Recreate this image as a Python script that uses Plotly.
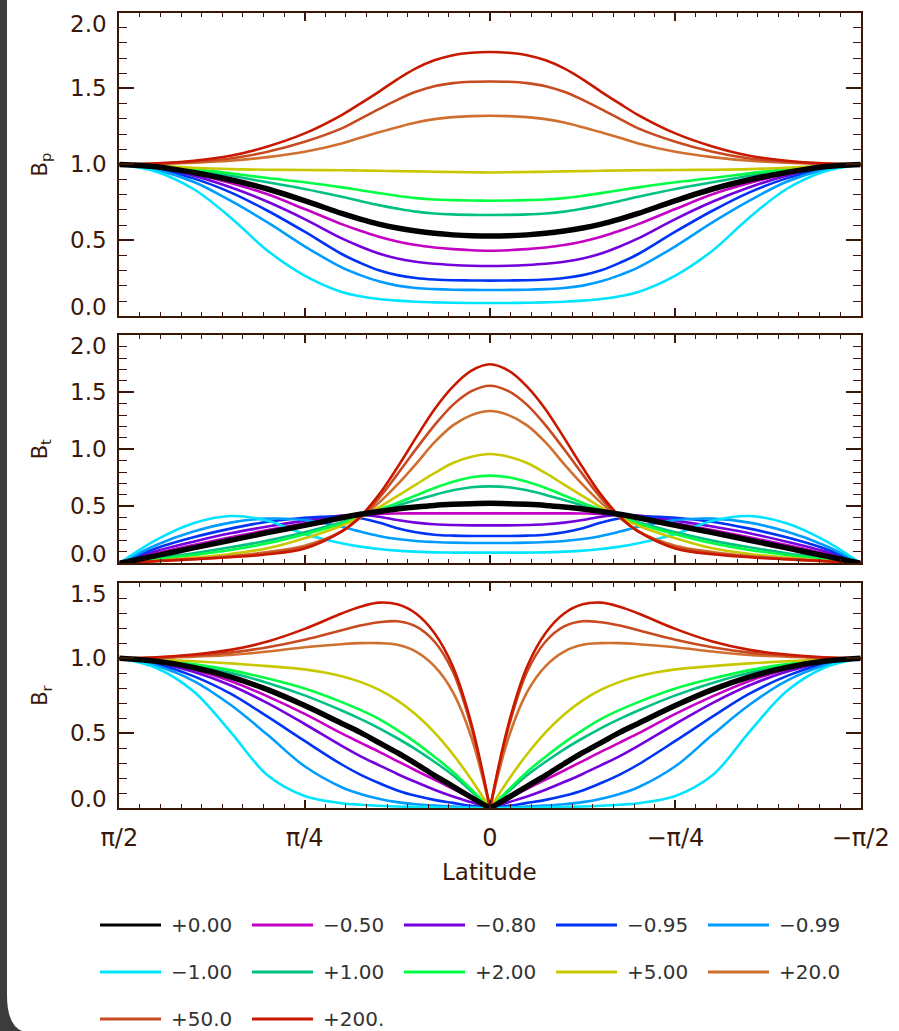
import plotly.graph_objects as go

W, H = 899, 1031

# ---------------- data ----------------
LAT = [90, 81, 72, 63, 54, 45, 36, 31.5, 27, 22.5, 18, 13.5, 9, 4.5, 0,
       -4.5, -9, -13.5, -18, -22.5, -27, -31.5, -36, -45, -54, -63, -72, -81, -90]

SERIES = ["+0.00", "−0.50", "−0.80", "−0.95", "−0.99", "−1.00",
          "+1.00", "+2.00", "+5.00", "+20.0", "+50.0", "+200."]
COLORS = ["#000000", "#c400c4", "#7400dc", "#0034f4", "#009cff", "#00e4ff",
          "#00c084", "#00ff44", "#c8c800", "#d07030", "#c84a20", "#c81800"]

# B_p
BP_P0 = [1.00, 0.985, 0.947, 0.899, 0.838, 0.761, 0.677, 0.640, 0.607, 0.581, 0.561, 0.546, 0.536, 0.530, 0.528, 0.530, 0.536, 0.546, 0.561, 0.581, 0.607, 0.640, 0.677, 0.761, 0.838, 0.899, 0.947, 0.985, 1.00]
BP_M05 = [1.00, 0.980, 0.939, 0.877, 0.803, 0.706, 0.607, 0.563, 0.524, 0.493, 0.469, 0.453, 0.442, 0.435, 0.432, 0.435, 0.442, 0.453, 0.469, 0.493, 0.524, 0.563, 0.607, 0.706, 0.803, 0.877, 0.939, 0.980, 1.00]
BP_M08 = [1.00, 0.976, 0.925, 0.849, 0.754, 0.640, 0.513, 0.460, 0.414, 0.381, 0.359, 0.346, 0.338, 0.333, 0.331, 0.333, 0.338, 0.346, 0.359, 0.381, 0.414, 0.460, 0.513, 0.640, 0.754, 0.849, 0.925, 0.976, 1.00]
BP_M095 = [1.00, 0.969, 0.908, 0.816, 0.695, 0.557, 0.410, 0.352, 0.303, 0.271, 0.252, 0.242, 0.237, 0.236, 0.235, 0.236, 0.237, 0.242, 0.252, 0.271, 0.303, 0.352, 0.410, 0.557, 0.695, 0.816, 0.908, 0.969, 1.00]
BP_M099 = [1.00, 0.963, 0.886, 0.761, 0.618, 0.461, 0.322, 0.271, 0.230, 0.202, 0.186, 0.179, 0.175, 0.174, 0.173, 0.174, 0.175, 0.179, 0.186, 0.202, 0.230, 0.271, 0.322, 0.461, 0.618, 0.761, 0.886, 0.963, 1.00]
BP_M1 = [1.00, 0.952, 0.838, 0.651, 0.432, 0.268, 0.160, 0.132, 0.114, 0.103, 0.096, 0.092, 0.089, 0.088, 0.088, 0.088, 0.089, 0.092, 0.096, 0.103, 0.114, 0.132, 0.160, 0.268, 0.432, 0.651, 0.838, 0.952, 1.00]
BP_P1 = [1.00, 0.987, 0.961, 0.925, 0.882, 0.838, 0.787, 0.759, 0.732, 0.709, 0.689, 0.677, 0.671, 0.668, 0.667, 0.668, 0.671, 0.677, 0.689, 0.709, 0.732, 0.759, 0.787, 0.838, 0.882, 0.925, 0.961, 0.987, 1.00]
BP_P2 = [1.00, 0.991, 0.969, 0.941, 0.910, 0.882, 0.849, 0.830, 0.811, 0.793, 0.778, 0.769, 0.765, 0.762, 0.761, 0.762, 0.765, 0.769, 0.778, 0.793, 0.811, 0.830, 0.849, 0.882, 0.910, 0.941, 0.969, 0.991, 1.00]
BP_P5 = [1.00, 0.991, 0.978, 0.969, 0.965, 0.963, 0.961, 0.960, 0.958, 0.956, 0.954, 0.952, 0.950, 0.948, 0.947, 0.948, 0.950, 0.952, 0.954, 0.956, 0.958, 0.960, 0.961, 0.963, 0.965, 0.969, 0.978, 0.991, 1.00]
BP_P20 = [1.00, 1.002, 1.011, 1.024, 1.048, 1.083, 1.138, 1.175, 1.211, 1.245, 1.276, 1.298, 1.311, 1.318, 1.320, 1.318, 1.311, 1.298, 1.276, 1.245, 1.211, 1.175, 1.138, 1.083, 1.048, 1.024, 1.011, 1.002, 1.00]
BP_P50 = [1.00, 1.004, 1.018, 1.039, 1.083, 1.149, 1.237, 1.300, 1.364, 1.425, 1.478, 1.515, 1.535, 1.544, 1.546, 1.544, 1.535, 1.515, 1.478, 1.425, 1.364, 1.300, 1.237, 1.149, 1.083, 1.039, 1.018, 1.004, 1.00]
BP_P200 = [1.00, 1.007, 1.024, 1.057, 1.118, 1.204, 1.325, 1.400, 1.478, 1.560, 1.632, 1.685, 1.719, 1.735, 1.740, 1.735, 1.719, 1.685, 1.632, 1.560, 1.478, 1.400, 1.325, 1.204, 1.118, 1.057, 1.024, 1.007, 1.00]

# B_t
BT_P0 = [0.0, 0.067, 0.135, 0.202, 0.269, 0.333, 0.400, 0.430, 0.455, 0.477, 0.494, 0.508, 0.517, 0.523, 0.526, 0.523, 0.517, 0.508, 0.494, 0.477, 0.455, 0.430, 0.400, 0.333, 0.269, 0.202, 0.135, 0.067, 0.0]
BT_M05 = [0.0, 0.088, 0.161, 0.228, 0.292, 0.351, 0.404, 0.422, 0.433, 0.437, 0.438, 0.438, 0.438, 0.438, 0.438, 0.438, 0.438, 0.438, 0.438, 0.437, 0.433, 0.422, 0.404, 0.351, 0.292, 0.228, 0.161, 0.088, 0.0]
BT_M08 = [0.0, 0.108, 0.190, 0.263, 0.322, 0.374, 0.418, 0.424, 0.409, 0.380, 0.357, 0.342, 0.336, 0.333, 0.333, 0.333, 0.336, 0.342, 0.357, 0.380, 0.409, 0.424, 0.418, 0.374, 0.322, 0.263, 0.190, 0.108, 0.0]
BT_M095 = [0.0, 0.132, 0.228, 0.304, 0.365, 0.400, 0.409, 0.395, 0.357, 0.307, 0.272, 0.251, 0.243, 0.240, 0.240, 0.240, 0.243, 0.251, 0.272, 0.307, 0.357, 0.395, 0.409, 0.400, 0.365, 0.304, 0.228, 0.132, 0.0]
BT_M099 = [0.0, 0.161, 0.278, 0.357, 0.392, 0.380, 0.320, 0.278, 0.240, 0.213, 0.196, 0.187, 0.181, 0.178, 0.178, 0.178, 0.181, 0.187, 0.196, 0.213, 0.240, 0.278, 0.320, 0.380, 0.392, 0.357, 0.278, 0.161, 0.0]
BT_M1 = [0.0, 0.205, 0.351, 0.415, 0.374, 0.257, 0.175, 0.146, 0.126, 0.111, 0.102, 0.096, 0.094, 0.094, 0.094, 0.094, 0.094, 0.096, 0.102, 0.111, 0.126, 0.146, 0.175, 0.257, 0.374, 0.415, 0.351, 0.205, 0.0]
BT_P1 = [0.0, 0.044, 0.088, 0.140, 0.199, 0.272, 0.360, 0.410, 0.455, 0.505, 0.555, 0.600, 0.640, 0.667, 0.675, 0.667, 0.640, 0.600, 0.555, 0.505, 0.455, 0.410, 0.360, 0.272, 0.199, 0.140, 0.088, 0.044, 0.0]
BT_P2 = [0.0, 0.035, 0.073, 0.117, 0.175, 0.255, 0.350, 0.410, 0.470, 0.530, 0.595, 0.660, 0.715, 0.755, 0.769, 0.755, 0.715, 0.660, 0.595, 0.530, 0.470, 0.410, 0.350, 0.255, 0.175, 0.117, 0.073, 0.035, 0.0]
BT_P5 = [0.0, 0.023, 0.050, 0.082, 0.132, 0.220, 0.330, 0.405, 0.490, 0.590, 0.690, 0.790, 0.880, 0.935, 0.959, 0.935, 0.880, 0.790, 0.690, 0.590, 0.490, 0.405, 0.330, 0.220, 0.132, 0.082, 0.050, 0.023, 0.0]
BT_P20 = [0.0, 0.020, 0.041, 0.064, 0.099, 0.155, 0.280, 0.400, 0.530, 0.690, 0.870, 1.060, 1.210, 1.300, 1.336, 1.300, 1.210, 1.060, 0.870, 0.690, 0.530, 0.400, 0.280, 0.155, 0.099, 0.064, 0.041, 0.020, 0.0]
BT_P50 = [0.0, 0.018, 0.035, 0.058, 0.088, 0.140, 0.280, 0.405, 0.570, 0.780, 1.000, 1.210, 1.390, 1.510, 1.558, 1.510, 1.390, 1.210, 1.000, 0.780, 0.570, 0.405, 0.280, 0.140, 0.088, 0.058, 0.035, 0.018, 0.0]
BT_P200 = [0.0, 0.020, 0.035, 0.053, 0.079, 0.130, 0.280, 0.410, 0.600, 0.840, 1.100, 1.350, 1.550, 1.690, 1.746, 1.690, 1.550, 1.350, 1.100, 0.840, 0.600, 0.410, 0.280, 0.130, 0.079, 0.053, 0.035, 0.020, 0.0]

# B_r
BR_P0 = [1.0, 0.980, 0.939, 0.876, 0.791, 0.685, 0.566, 0.506, 0.438, 0.371, 0.297, 0.220, 0.146, 0.072, 0.0, 0.072, 0.146, 0.220, 0.297, 0.371, 0.438, 0.506, 0.566, 0.685, 0.791, 0.876, 0.939, 0.980, 1.0]
BR_M05 = [1.0, 0.975, 0.926, 0.849, 0.746, 0.629, 0.499, 0.438, 0.378, 0.315, 0.252, 0.191, 0.130, 0.067, 0.0, 0.067, 0.130, 0.191, 0.252, 0.315, 0.378, 0.438, 0.499, 0.629, 0.746, 0.849, 0.926, 0.975, 1.0]
BR_M08 = [1.0, 0.971, 0.910, 0.820, 0.701, 0.562, 0.416, 0.348, 0.288, 0.229, 0.175, 0.124, 0.079, 0.040, 0.0, 0.040, 0.079, 0.124, 0.175, 0.229, 0.288, 0.348, 0.416, 0.562, 0.701, 0.820, 0.910, 0.971, 1.0]
BR_M095 = [1.0, 0.962, 0.881, 0.764, 0.611, 0.449, 0.292, 0.225, 0.169, 0.119, 0.083, 0.056, 0.036, 0.016, 0.0, 0.016, 0.036, 0.056, 0.083, 0.119, 0.169, 0.225, 0.292, 0.449, 0.611, 0.764, 0.881, 0.962, 1.0]
BR_M099 = [1.0, 0.950, 0.850, 0.690, 0.490, 0.280, 0.140, 0.096, 0.064, 0.041, 0.027, 0.018, 0.011, 0.006, 0.0, 0.006, 0.011, 0.018, 0.027, 0.041, 0.064, 0.096, 0.140, 0.280, 0.490, 0.690, 0.850, 0.950, 1.0]
BR_M1 = [1.0, 0.935, 0.780, 0.510, 0.220, 0.082, 0.034, 0.024, 0.017, 0.012, 0.009, 0.007, 0.004, 0.002, 0.0, 0.002, 0.004, 0.007, 0.009, 0.012, 0.017, 0.024, 0.034, 0.082, 0.220, 0.510, 0.780, 0.935, 1.0]
BR_P1 = [1.0, 0.984, 0.953, 0.903, 0.836, 0.753, 0.652, 0.596, 0.535, 0.467, 0.393, 0.310, 0.220, 0.112, 0.0, 0.112, 0.220, 0.310, 0.393, 0.467, 0.535, 0.596, 0.652, 0.753, 0.836, 0.903, 0.953, 0.984, 1.0]
BR_P2 = [1.0, 0.989, 0.962, 0.921, 0.865, 0.798, 0.708, 0.656, 0.596, 0.521, 0.438, 0.344, 0.243, 0.124, 0.0, 0.124, 0.243, 0.344, 0.438, 0.521, 0.596, 0.656, 0.708, 0.798, 0.865, 0.921, 0.962, 0.989, 1.0]
BR_P5 = [1.0, 0.993, 0.980, 0.966, 0.948, 0.926, 0.881, 0.843, 0.791, 0.719, 0.625, 0.506, 0.360, 0.191, 0.0, 0.191, 0.360, 0.506, 0.625, 0.719, 0.791, 0.843, 0.881, 0.926, 0.948, 0.966, 0.980, 0.993, 1.0]
BR_P20 = [1.0, 1.002, 1.011, 1.022, 1.045, 1.074, 1.094, 1.101, 1.101, 1.090, 1.045, 0.948, 0.775, 0.472, 0.0, 0.472, 0.775, 0.948, 1.045, 1.090, 1.101, 1.101, 1.094, 1.074, 1.045, 1.022, 1.011, 1.002, 1.0]
BR_P50 = [1.0, 1.004, 1.018, 1.038, 1.074, 1.124, 1.187, 1.218, 1.240, 1.247, 1.213, 1.112, 0.910, 0.539, 0.0, 0.539, 0.910, 1.112, 1.213, 1.247, 1.240, 1.218, 1.187, 1.124, 1.074, 1.038, 1.018, 1.004, 1.0]
BR_P200 = [1.0, 1.007, 1.025, 1.056, 1.112, 1.196, 1.299, 1.344, 1.371, 1.360, 1.299, 1.169, 0.944, 0.562, 0.0, 0.562, 0.944, 1.169, 1.299, 1.360, 1.371, 1.344, 1.299, 1.196, 1.112, 1.056, 1.025, 1.007, 1.0]

BP = [BP_P0, BP_M05, BP_M08, BP_M095, BP_M099, BP_M1, BP_P1, BP_P2, BP_P5, BP_P20, BP_P50, BP_P200]
BT = [BT_P0, BT_M05, BT_M08, BT_M095, BT_M099, BT_M1, BT_P1, BT_P2, BT_P5, BT_P20, BT_P50, BT_P200]
BR = [BR_P0, BR_M05, BR_M08, BR_M095, BR_M099, BR_M1, BR_P1, BR_P2, BR_P5, BR_P20, BR_P50, BR_P200]

X_TICKS = [90, 45, 0, -45, -90]
X_TICKTEXT = ["π/2", "π/4", "0", "−π/4", "−π/2"]
Y1_TICKS = [0.0, 0.5, 1.0, 1.5, 2.0]
Y3_TICKS = [0.0, 0.5, 1.0, 1.5]

# ---------------- layout helpers ----------------
AX = "#3a1808"
FONT = "DejaVu Sans"
PLOT_L, PLOT_R = 119.3, 860.7
PANELS = [(12.5, 316.3, [0, 2], Y1_TICKS, "B<sub>p</sub>"),
          (335.3, 563.3, [0, 2], Y1_TICKS, "B<sub>t</sub>"),
          (583.3, 808.3, [0, 1.5], Y3_TICKS, "B<sub>r</sub>")]


def fx(p):
    return p / W


def fy(p):
    return 1 - p / H


fig = go.Figure()

order = list(range(1, len(SERIES))) + [0]   # black drawn on top
for pi, data in enumerate([BP, BT, BR]):
    xa = "x" if pi == 0 else f"x{pi + 1}"
    ya = "y" if pi == 0 else f"y{pi + 1}"
    for i in order:
        w = 5.5 if i == 0 else 2.6
        vals = data[i]
        if pi < 2:
            fig.add_trace(go.Scatter(x=LAT, y=vals, mode="lines", xaxis=xa, yaxis=ya,
                                     line=dict(color=COLORS[i], width=w, shape="spline", smoothing=1.0),
                                     name=SERIES[i], showlegend=False, hoverinfo="skip"))
        else:
            mid = LAT.index(0)
            for sl in (slice(0, mid + 1), slice(mid, len(LAT))):
                fig.add_trace(go.Scatter(x=LAT[sl], y=vals[sl], mode="lines", xaxis=xa, yaxis=ya,
                                         line=dict(color=COLORS[i], width=w, shape="spline", smoothing=1.0),
                                         name=SERIES[i], showlegend=False, hoverinfo="skip"))

layout = dict(width=W, height=H, autosize=False,
              margin=dict(l=0, r=0, t=0, b=0, pad=0, autoexpand=False),
              paper_bgcolor="white", plot_bgcolor="white", showlegend=False,
              font=dict(family=FONT, color=AX))
annotations = []
shapes = []
for pi, (top, bot, rng, yt, title) in enumerate(PANELS):
    sfx = "" if pi == 0 else str(pi + 1)
    layout["xaxis" + sfx] = dict(
        domain=[fx(PLOT_L), fx(PLOT_R)], range=[90, -90], anchor="y" + sfx,
        automargin=False,
        showline=True, linecolor=AX, linewidth=2, mirror="ticks",
        ticks="inside", ticklen=8, tickwidth=1.6, tickcolor=AX,
        tickvals=X_TICKS, ticktext=X_TICKTEXT, showticklabels=(pi == 2),
        tickfont=dict(size=24, color=AX, family=FONT), ticklabelstandoff=7,
        minor=dict(dtick=5, tick0=0, ticks="inside", ticklen=4, tickwidth=1.4, tickcolor=AX),
        showgrid=False, zeroline=False, fixedrange=True)
    layout["yaxis" + sfx] = dict(
        domain=[fy(bot), fy(top)], range=rng, anchor="x" + sfx,
        automargin=False,
        showline=True, linecolor=AX, linewidth=2, mirror="ticks",
        ticks="inside", ticklen=15, tickwidth=1.6, tickcolor=AX,
        tickvals=yt, showticklabels=False,
        minor=dict(dtick=0.1, tick0=0, ticks="inside", ticklen=8, tickwidth=1.4, tickcolor=AX),
        showgrid=False, zeroline=False, fixedrange=True)
    for v in yt:
        shift = 0
        if v == yt[0]:
            shift = 9
        elif v == yt[-1]:
            shift = -11
        annotations.append(dict(x=fx(109), xref="paper", y=v, yref="y" + sfx,
                                text=f"{v:.1f}", showarrow=False, xanchor="right", yanchor="middle",
                                yshift=shift, font=dict(size=23, color=AX, family=FONT)))
    annotations.append(dict(x=fx(41), xref="paper", y=fy((top + bot) / 2), yref="paper",
                            text=title, textangle=-90, showarrow=False, xanchor="center",
                            yanchor="middle", font=dict(size=21, color=AX, family=FONT)))

annotations.append(dict(x=fx(489), xref="paper", y=fy(872), yref="paper", text="Latitude",
                        showarrow=False, xanchor="center", yanchor="middle",
                        font=dict(size=23, color=AX, family=FONT)))

# legend (3 rows x 5 columns)
for i, lab in enumerate(SERIES):
    r, c = divmod(i, 5)
    y0 = 925 + 47 * r
    x0 = 100 + 152 * c
    shapes.append(dict(type="line", xref="paper", yref="paper", x0=fx(x0), x1=fx(x0 + 61),
                       y0=fy(y0), y1=fy(y0), line=dict(color=COLORS[i], width=3)))
    annotations.append(dict(x=fx(x0 + 69), xref="paper", y=fy(y0), yref="paper", text=lab,
                            showarrow=False, xanchor="left", yanchor="middle",
                            font=dict(size=20, color="#333333", family=FONT)))

# dark window edge at left with rounded corner
shapes.append(dict(type="rect", xref="paper", yref="paper", x0=0, x1=fx(7), y0=0, y1=1,
                   fillcolor="#3c3c3c", line=dict(width=0), layer="above"))
shapes.append(dict(type="path", xref="paper", yref="paper",
                   path=f"M 0 {fy(H)} L 0 {fy(995)} L {fx(7)} {fy(995)} Q {fx(7)} {fy(1025)} {fx(22)} {fy(H)} Z",
                   fillcolor="#3c3c3c", line=dict(width=0), layer="above"))

layout["annotations"] = annotations
layout["shapes"] = shapes
fig.update_layout(**layout)
fig.write_html("out.html")
